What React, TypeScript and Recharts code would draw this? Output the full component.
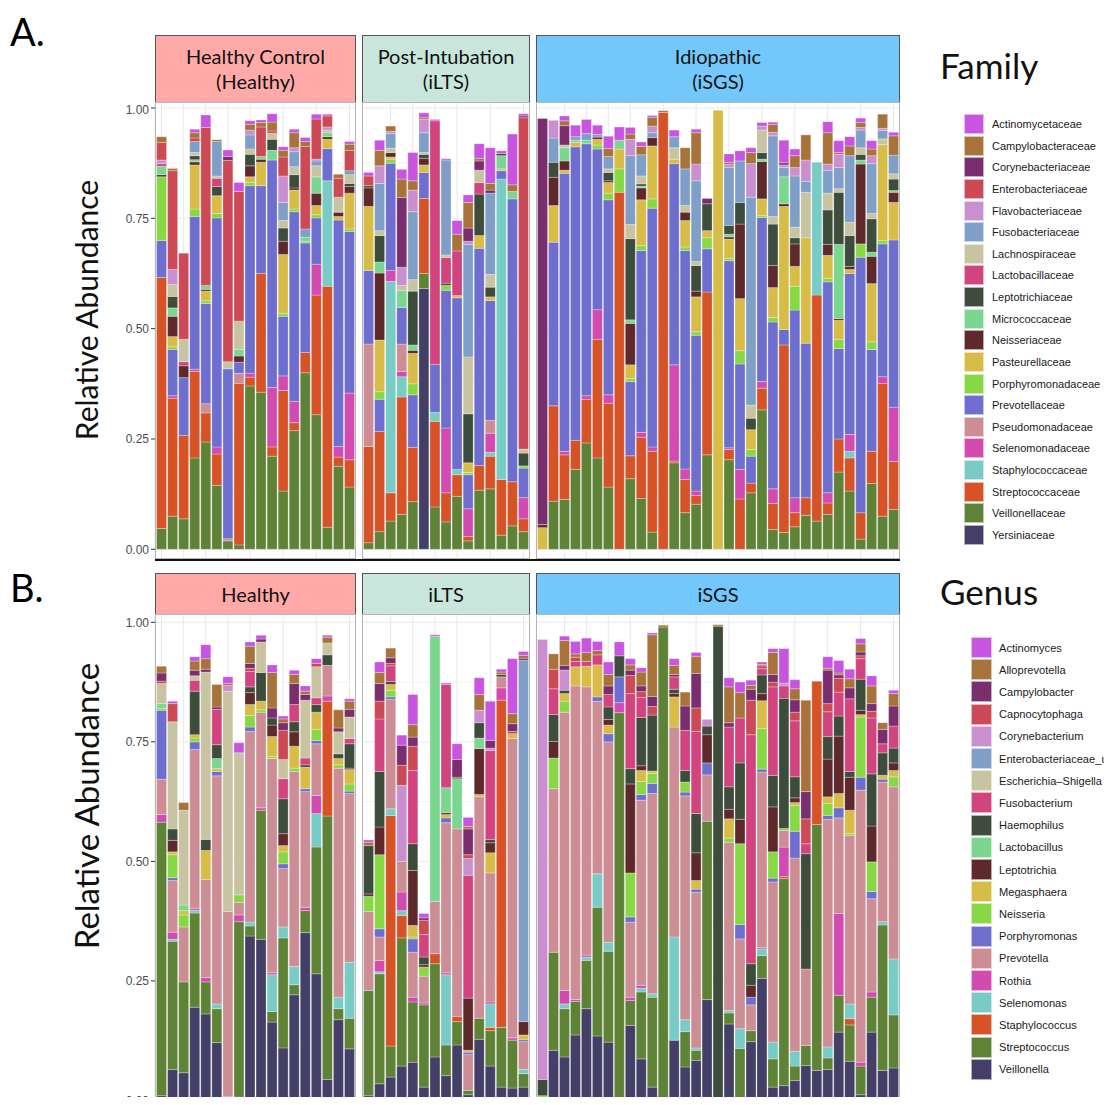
import React from 'react';
import { BarChart, Bar, XAxis, YAxis, CartesianGrid } from 'recharts';

// legend order (top of stack first)
const FAMILIES = ['Actinomycetaceae', 'Campylobacteraceae', 'Corynebacteriaceae', 'Enterobacteriaceae', 'Flavobacteriaceae', 'Fusobacteriaceae', 'Lachnospiraceae', 'Lactobacillaceae', 'Leptotrichiaceae', 'Micrococcaceae', 'Neisseriaceae', 'Pasteurellaceae', 'Porphyromonadaceae', 'Prevotellaceae', 'Pseudomonadaceae', 'Selenomonadaceae', 'Staphylococcaceae', 'Streptococcaceae', 'Veillonellaceae', 'Yersiniaceae'];
const FAM_KEYS = ['Ac', 'Ca', 'Co', 'En', 'Fl', 'Fu', 'La', 'Lb', 'Le', 'Mi', 'Ne', 'Pa', 'Po', 'Pv', 'Ps', 'Se', 'St', 'Sr', 'Ve', 'Ye'];

const GENERA = ['Actinomyces', 'Alloprevotella', 'Campylobacter', 'Capnocytophaga', 'Corynebacterium', 'Enterobacteriaceae_unclassified', 'Escherichia–Shigella', 'Fusobacterium', 'Haemophilus', 'Lactobacillus', 'Leptotrichia', 'Megasphaera', 'Neisseria', 'Porphyromonas', 'Prevotella', 'Rothia', 'Selenomonas', 'Staphylococcus', 'Streptococcus', 'Veillonella'];
const GEN_KEYS = ['Ac', 'Al', 'Cb', 'Cn', 'Cy', 'Eu', 'Es', 'Fu', 'Ha', 'Lc', 'Lp', 'Me', 'Ne', 'Po', 'Pr', 'Ro', 'Se', 'Sp', 'St', 'Vn'];

const PALETTE = ['#c855e0', '#a8733a', '#7a2e6e', '#cc4a55', '#c98fcf', '#7f9fc8', '#c8c3a1', '#d2447e', '#3d4c3b', '#7bd690', '#5e292b', '#d7bc48', '#87d844', '#6e6ecf', '#cc8d95', '#d14bb1', '#79cbc6', '#d55327', '#5e8236', '#433f66'];

type Sample = Record<string, number>;

// ---- Family level ----
const famHealthy: Sample[] = [
  { Ve: .047, Sr: .569, Pv: .084, Po: .144, Ne: .005, Mi: .019, Lb: .006, Fl: .008, En: .04, Ca: .013 },
  { Ve: .075, Sr: .267, Se: .006, Pv: .105, Po: .006, Pa: .023, Ne: .046, Mi: .019, Le: .026, La: .027, Fl: .034, En: .224, Ca: .005 },
  { Ve: .069, Sr: .189, Pv: .131, Ne: .027, Lb: .009, La: .051, En: .195 },
  { Ve: .207, Sr: .196, Se: .005, Pv: .346, Po: .017, Pa: .1, Ne: .007, Mi: .005, Le: .009, La: .007, Fu: .025, En: .008, Ca: .012, Ac: .008 },
  { Ve: .243, Sr: .066, Ps: .021, Pv: .227, Pa: .022, Po: .006, Mi: .009, Ne: .004, En: .358, Ac: .028 },
  { Ve: .145, Sr: .071, Se: .016, Pv: .519, Po: .01, Pa: .04, Le: .021, Lb: .019, La: .005, Fu: .078, Ca: .004 },
  { Ve: .019, Ps: .005, Pv: .385, La: .016, En: .456, Co: .009, Ac: .015 },
  { Ve: .01, Sr: .366, Ps: .023, Pv: .025, Ne: .014, Mi: .015, La: .064, En: .294, Ac: .02 },
  { Ve: .37, Sr: .02, Se: .009, Pv: .425, Po: .007, Pa: .013, Ne: .025, Le: .026, La: .012, Fu: .032, Fl: .011, Ca: .013, Ac: .008 },
  { Ve: .356, Sr: .269, Pv: .199, Pa: .053, Ne: .007, Mi: .006, En: .067, Ca: .01, Ac: .006 },
  { Ve: .211, Sr: .021, Se: .135, Pv: .515, Mi: .022, Le: .025, La: .014, En: .005, Ca: .02, Ac: .019 },
  { Ve: .132, Sr: .228, Se: .033, Pv: .135, Po: .006, Pa: .134, Ne: .03, Le: .03, La: .017, Fu: .041, Fl: .06, En: .043, Ca: .015, Ac: .008 },
  { Ve: .269, Sr: .018, Se: .048, Pv: .43, Po: .006, Pa: .043, Ne: .005, Le: .03, La: .018, Fu: .034, Fl: .009, Ca: .034, Ac: .008 },
  { Ve: .4, Sr: .046, Pv: .248, Po: .004, Mi: .009, Fu: .019, En: .187, Ca: .011, Ac: .009 },
  { Ve: .305, Sr: .271, Se: .07, Pv: .105, Po: .007, Pa: .021, Ne: .028, Mi: .037, La: .025, Fu: .011, Fl: .004, En: .091, Ac: .011 },
  { Ve: .05, Sr: .546, St: .239, Pv: .073, Pa: .021, Ne: .006, Mi: .009, La: .006, Fl: .007, En: .025, Ac: .004 },
  { Ve: .188, Sr: .021, Se: .024, Pv: .513, Pa: .008, Ne: .01, La: .034, En: .043, Ca: .009 },
  { Ve: .141, Sr: .062, Se: .151, Pv: .366, Po: .006, Pa: .081, Ne: .015, Le: .007, La: .02, Fu: .009, En: .046, Ca: .014, Ac: .006 },
];

const famILTS: Sample[] = [
  { Ve: .015, Sr: .218, Ps: .232, Pv: .167, Pa: .145, Ne: .042, Le: .005, En: .022, Ac: .008 },
  { Ve: .04, Sr: .227, Pv: .073, Po: .017, Pa: .117, Ne: .152, Mi: .025, Le: .06, La: .011, Fu: .107, Fl: .04, Ca: .035, Ac: .023 },
  { Ve: .064, Sr: .064, St: .479, Se: .025, Pv: .243, Po: .009, Pa: .005, Ne: .01, La: .01, Fu: .033, Fl: .005, Ca: .012 },
  { Ve: .079, Sr: .266, St: .046, Se: .012, Ps: .062, Pv: .083, Mi: .038, La: .012, Fl: .041, Co: .158, Ca: .042, Ac: .022 },
  { Ve: .108, Sr: .123, Pv: .119, Po: .025, Pa: .069, Ne: .007, Mi: .012, Le: .122, La: .026, Fu: .154, Fl: .049, Ca: .021, Ac: .064 },
  { Ye: .591, Ve: .034, Sr: .17, Pv: .059, Pa: .017, Ne: .015, Le: .009, La: .004, Fu: .045, Fl: .03, Ca: .004, Ac: .011 },
  { Ve: .096, Sr: .194, St: .02, Pv: .109, Lb: .552, Ac: .003 },
  { Ve: .062, Sr: .066, Se: .147, Pv: .312, Po: .011, Le: .005, Lb: .058, La: .006, Fu: .215, Ac: .003 },
  { Ve: .12, Sr: .049, St: .012, Pv: .389, Pa: .005, Lb: .101, Ca: .038, Ac: .031 },
  { Ve: .019, Sr: .01, Se: .063, Pv: .077, Po: .005, Pa: .022, Le: .111, La: .129, Fu: .255, Fl: .007, Co: .03, Ca: .058, Ac: .017 },
  { Ve: .134, Sr: .056, Pv: .492, Pa: .029, Le: .094, Lb: .026, La: .028, Co: .021, Ca: .006, Ac: .033 },
  { Ve: .137, Sr: .074, St: .009, Se: .043, Ps: .029, Pv: .272, Pa: .008, Le: .022, La: .029, Fu: .184, Co: .007, Ca: .015, Ac: .081 },
  { Ve: .032, Sr: .126, St: .681, Pv: .019, Pa: .004, Mi: .03, Le: .005, Ac: .006 },
  { Ve: .053, Sr: .1, Pv: .641, Mi: .017, Ca: .015, Ac: .115 },
  { Ve: .04, Sr: .029, Se: .048, Pv: .067, Po: .005, Le: .029, La: .009, En: .751, Co: .004, Ac: .005 },
];

const famISGS: Sample[] = [
  { Pa: .049, Ne: .007, Co: .92 },
  { Ve: .109, Sr: .216, Pv: .371, Pa: .083, Ne: .064, Le: .034, Fu: .055, Fl: .04 },
  { Ve: .113, Sr: .101, Se: .008, Pv: .63, Pa: .007, Ne: .021, Mi: .03, La: .006, Co: .044, Ca: .011, Ac: .011 },
  { Ve: .181, Sr: .066, Pv: .665, Pa: .01, Mi: .005, Fu: .008, Ac: .026 },
  { Ve: .241, Sr: .099, Se: .008, Pv: .571, Mi: .008, Fu: .015, Ac: .032 },
  { Ve: .207, Sr: .269, Se: .067, Pv: .364, Po: .009, Pa: .013, Ne: .005, Fu: .006, Ac: .021 },
  { Ve: .141, Sr: .19, Se: .019, Pv: .442, Po: .015, Pa: .024, Ne: .004, Le: .019, La: .008, Fu: .028, Ca: .018, Ac: .028 },
  { Sr: .809, Po: .053, Pa: .045, Mi: .02, Ac: .03 },
  { Ve: .16, Sr: .052, Pv: .168, Po: .007, Pa: .031, Ne: .094, Mi: .008, Le: .184, La: .032, Fu: .156, Fl: .037, Ca: .012, Ac: .015 },
  { Ve: .115, Sr: .139, Se: .011, Pv: .412, Po: .011, Pa: .104, Ne: .027, Mi: .004, Le: .005, La: .018, Fu: .048, Ca: .019, Ac: .01 },
  { Ve: .039, Sr: .183, Se: .01, Pv: .541, Po: .021, Pa: .12, Ne: .019, Fu: .011, Fl: .015, Ca: .02, Ac: .004 },
  { Sr: .99, Ca: .004 },
  { Ve: .196, Sr: .004, Se: .218, Pv: .456, Pa: .01, La: .026, Fu: .025, Ac: .015 },
  { Ve: .083, Sr: .075, Se: .024, Pv: .495, Po: .008, Pa: .06, Ne: .019, La: .015, Fu: .083, Ca: .048 },
  { Ve: .102, Sr: .02, Se: .01, Pv: .353, Po: .008, Pa: .079, Ne: .013, Le: .058, La: .009, Fu: .183, Fl: .038, Ca: .071, Ac: .008 },
  { Ve: .214, Sr: .369, Pv: .098, Po: .025, Pa: .016, Le: .061, Co: .012 },
  { Pa: .995 },
  { Ve: .203, Sr: .023, Se: .004, Pv: .424, Po: .005, Pa: .044, Ne: .005, Mi: .006, Le: .02, Fu: .131, Fl: .008, Ca: .004, Ac: .019 },
  { Sr: .114, Se: .067, Pv: .239, Po: .03, Pa: .118, Ne: .169, Le: .049, Fu: .094, Ac: .023 },
  { Ve: .128, Sr: .022, Pv: .061, Po: .015, Pa: .045, Le: .026, La: .03, Fu: .471, Fl: .076, Ca: .025, Ac: .011 },
  { Ve: .316, Sr: .049, Se: .015, Pv: .372, Po: .004, Pa: .038, Ne: .085, Mi: .005, Le: .015, La: .051, Fl: .009, Ac: .008 },
  { Ve: .045, Sr: .059, Se: .033, Pv: .378, Po: .01, Pa: .068, Ne: .05, Le: .094, La: .017, Fu: .183, Fl: .008, Ca: .018, Ac: .005 },
  { Ve: .038, Sr: .425, Pv: .035, Pa: .279, Ne: .006, Mi: .061, Fu: .021, Fl: .006, Co: .005, Ac: .051 },
  { Ve: .051, Sr: .032, Se: .034, Pv: .425, Po: .054, Pa: .045, Ne: .051, Le: .014, La: .024, Fu: .116, Fl: .019, Ca: .027, Ac: .015 },
  { Ve: .077, Sr: .04, Pv: .35, Pa: .239, La: .103, Fu: .025, Fl: .048, Ca: .057 },
  { Ve: .064, Sr: .512, St: .301 },
  { Ve: .079, Sr: .026, Se: .023, Pv: .478, Po: .008, Pa: .052, Ne: .025, Le: .078, La: .038, Fu: .052, Fl: .014, Ca: .071, Ac: .025 },
  { Ve: .175, Sr: .075, Pv: .205, Po: .021, Pa: .043, Ne: .004, Mi: .168, Le: .118, La: .008, Fu: .048, Fl: .03, Ca: .004, Ac: .027 },
  { Ve: .132, Sr: .075, St: .015, Se: .038, Pv: .365, Pa: .009, Ne: .007, Le: .07, La: .03, Fu: .151, Ca: .022, Ac: .021 },
  { Ve: .023, Sr: .06, Pv: .579, Po: .03, Ne: .181, Mi: .009, Le: .013, La: .015, Fu: .04, Fl: .006, Ca: .011, Ac: .01 },
  { Ve: .149, Sr: .073, Pv: .231, Po: .017, Pa: .132, Ne: .062, Mi: .009, Le: .076, La: .012, Fu: .113, Fl: .018, Ca: .015, Ac: .019 },
  { Ve: .075, Sr: .301, Se: .015, Pv: .301, Po: .008, Pa: .217, La: .013, Fu: .019, Fl: .005, Ca: .032 },
  { Ve: .09, Sr: .109, Se: .123, Pv: .379, Pa: .085, Ne: .023, Mi: .004, Le: .026, La: .012, Fu: .042, Ca: .044, Ac: .008 },
];

// ---- Genus level ----
const genHealthy: Sample[] = [
  { Vn: .01, St: .572, Ro: .016, Pr: .074, Po: .144, Ne: .004, Lc: .01, Es: .042, Cn: .005, Cb: .017, Al: .014 },
  { Vn: .065, St: .268, Se: .004, Ro: .015, Pr: .108, Po: .006, Ne: .048, Me: .006, Lp: .024, Ha: .024, Es: .224, Cn: .038, Ac: .005 },
  { Vn: .058, St: .19, Pr: .115, Ne: .025, Me: .009, Lc: .012, Es: .198, Al: .016 },
  { Vn: .195, St: .197, Se: .006, Ro: .004, Pr: .332, Po: .016, Ne: .008, Me: .007, Ha: .091, Fu: .023, Es: .009, Cb: .012, Al: .019, Ac: .009 },
  { Vn: .181, St: .067, Ro: .009, Pr: .205, Me: .061, Ha: .023, Es: .35, Cb: .006, Al: .022, Ac: .029 },
  { Vn: .121, St: .071, Se: .01, Pr: .477, Po: .009, Me: .006, Lc: .021, Ha: .029, Fu: .074, Cb: .005, Al: .047 },
  { Vn: .004, Sp: .004, Pr: .387, Es: .461, Cy: .012, Al: .004, Ac: .014 },
  { Vn: .007, St: .367, Ro: .014, Pr: .026, Ne: .016, Es: .297, Ac: .021 },
  { Vn: .344, St: .021, Se: .008, Pr: .399, Po: .009, Ne: .024, Me: .023, Lp: .025, Ha: .012, Fu: .032, Cn: .007, Cb: .01, Al: .036, Ac: .009 },
  { Vn: .337, St: .27, Ro: .005, Pr: .2, Ne: .005, Me: .018, Ha: .06, Es: .064, Cb: .006, Ac: .008 },
  { Vn: .164, St: .022, Se: .077, Ro: .004, Pr: .448, Ne: .004, Me: .042, Lp: .024, Ha: .015, Cb: .021, Al: .074, Ac: .016 },
  { Vn: .11, St: .23, Se: .023, Pr: .122, Po: .01, Ne: .025, Me: .013, Lp: .025, Ha: .073, Fu: .042, Es: .04, Cn: .061, Cb: .016, Al: .008, Ac: .006 },
  { Vn: .221, St: .021, Se: .038, Pr: .408, Ne: .007, Me: .046, Lp: .03, Ha: .021, Fu: .036, Cb: .044, Al: .019, Ac: .009 },
  { Vn: .351, St: .046, Ro: .007, Pr: .242, Po: .006, Me: .045, Ha: .005, Fu: .014, Es: .121, Cb: .012, Al: .007, Ac: .011 },
  { Vn: .265, St: .265, Se: .07, Ro: .038, Pr: .108, Po: .007, Ne: .023, Me: .036, Ha: .016, Fu: .014, Es: .065, Cn: .007, Ac: .01 },
  { Vn: .044, St: .551, Sp: .24, Ro: .011, Pr: .064, Ha: .022, Es: .025, Al: .012, Ac: .004 },
  { Vn: .169, St: .023, Se: .024, Pr: .479, Ne: .007, Me: .013, Ha: .01, Es: .046, Cb: .008, Al: .038 },
  { Vn: .108, St: .064, Se: .117, Pr: .353, Po: .005, Ne: .015, Me: .03, Lp: .003, Ha: .051, Fu: .011, Es: .045, Cb: .016, Al: .017, Ac: .005 },
];

const genILTS: Sample[] = [
  { Vn: .01, St: .22, Pr: .165, Ne: .032, Lp: .005, Ha: .101, Al: .007, Ac: .005 },
  { Vn: .035, St: .23, Se: .004, Ro: .024, Pr: .049, Po: .017, Ne: .155, Lp: .058, Ha: .116, Fu: .11, Cn: .037, Cb: .037, Al: .023, Ac: .022 },
  { Vn: .049, St: .065, Sp: .482, Se: .014, Pr: .229, Po: .005, Ne: .014, Me: .012, Ha: .006, Fu: .033, Cn: .005, Cb: .012, Al: .02 },
  { Vn: .072, St: .268, Sp: .047, Se: .01, Ro: .039, Pr: .064, Cy: .159, Cn: .042, Cb: .042, Ac: .021 },
  { Vn: .08, St: .126, Ro: .01, Pr: .094, Po: .028, Ne: .004, Me: .024, Lp: .115, Ha: .056, Fu: .153, Cn: .051, Cb: .019, Al: .026, Ac: .063 },
  { Vn: .028, St: .172, Ro: .004, Pr: .056, Ne: .019, Lp: .005, Ha: .016, Fu: .047, Cn: .03, Cb: .005, Ac: .009 },
  { Vn: .091, St: .195, Sp: .021, Pr: .109, Lc: .555, Ac: .003 },
  { Vn: .052, St: .064, Se: .147, Ro: .004, Pr: .314, Po: .01, Me: .007, Lp: .004, Lc: .052, Fu: .216, Ac: .003 },
  { Vn: .116, St: .049, Sp: .011, Pr: .392, Lc: .105, Ha: .003, Cb: .037, Ac: .033 },
  { Vn: .012, St: .009, Pr: .075, Po: .005, Me: .004, Lp: .109, Fu: .257, Cy: .035, Cn: .008, Cb: .054, Al: .005, Ac: .019 },
  { Vn: .128, St: .044, Pr: .463, Me: .005, Lp: .096, Lc: .022, Ha: .032, Cy: .026, Al: .033, Ac: .035 },
  { Vn: .072, St: .074, Sp: .007, Se: .049, Ro: .004, Pr: .27, Me: .042, Lp: .021, Ha: .007, Fu: .186, Cy: .005, Cb: .016, Ac: .082 },
  { Vn: .028, St: .125, Sp: .684, Ro: .026, Pr: .023, Ha: .005, Al: .005, Ac: .006 },
  { Vn: .026, St: .1, Ro: .005, Pr: .626, Me: .01, Cn: .005, Cb: .016, Al: .021, Ac: .115 },
  { Vn: .028, St: .028, Se: .009, Pr: .058, Po: .004, Me: .01, Lp: .028, Eu: .756, Cb: .004, Al: .006, Ac: .008 },
];

const genISGS: Sample[] = [
  { Ro: .002, Ne: .008, Ha: .034, Cy: .92 },
  { Vn: .105, St: .205, Pr: .342, Ne: .064, Lp: .035, Ha: .056, Fu: .054, Cn: .041, Al: .032 },
  { Vn: .091, St: .101, Se: .01, Ro: .028, Pr: .582, Ne: .023, Me: .016, Ha: .007, Cy: .042, Cb: .01, Al: .052, Ac: .009 },
  { Vn: .137, St: .07, Ro: .004, Pr: .656, Me: .04, Fu: .011, Cn: .009, Al: .007, Ac: .026 },
  { Vn: .192, St: .101, Se: .007, Ro: .004, Pr: .561, Me: .043, Fu: .01, Al: .019, Ac: .03 },
  { Vn: .135, St: .269, Se: .07, Pr: .361, Po: .009, Me: .067, Fu: .021, Al: .009, Ac: .019 },
  { Vn: .122, St: .19, Se: .019, Pr: .419, Po: .017, Me: .018, Lp: .012, Ha: .026, Fu: .026, Cb: .018, Al: .024, Ac: .026 },
  { St: .811, Ro: .021, Po: .054, Ha: .044, Ac: .029 },
  { Vn: .157, St: .052, Ro: .007, Pr: .157, Po: .011, Ne: .092, Lp: .186, Ha: .032, Fu: .157, Cn: .038, Cb: .011, Al: .011, Ac: .013 },
  { Vn: .087, St: .14, Se: .008, Ro: .006, Pr: .387, Po: .012, Ne: .027, Me: .023, Lp: .01, Ha: .101, Fu: .042, Cn: .012, Cb: .012, Al: .029, Ac: .009 },
  { Vn: .028, St: .188, Se: .007, Pr: .419, Po: .021, Ne: .021, Me: .005, Ha: .117, Cn: .018, Cb: .021, Al: .129, Ac: .004 },
  { St: .99, Al: .004 },
  { Vn: .126, Se: .216, Pr: .439, Me: .063, Lp: .007, Ha: .009, Fu: .026, Cb: .005, Al: .019, Ac: .014 },
  { Vn: .07, St: .074, Se: .025, Pr: .468, Po: .008, Ne: .021, Ha: .024, Fu: .084, Cb: .051, Al: .029 },
  { Vn: .084, St: .021, Se: .005, Pr: .325, Po: .007, Me: .018, Lp: .058, Ha: .082, Fu: .172, Cn: .049, Cb: .072, Al: .036, Ac: .008 },
  { Vn: .211, St: .373, Pr: .097, Po: .025, Lp: .059, Ha: .018, Cy: .014 },
  { Ha: .992, Al: .003 },
  { Vn: .16, St: .023, Se: .005, Pr: .352, Ne: .009, Me: .04, Lp: .02, Ha: .047, Fu: .125, Cb: .009, Al: .075, Ac: .019 },
  { St: .109, Se: .041, Pr: .188, Po: .03, Ne: .169, Lp: .051, Ha: .118, Fu: .094, Al: .053, Ac: .022 },
  { Vn: .123, St: .023, Pr: .054, Po: .016, Lp: .025, Ha: .045, Fu: .479, Cn: .072, Cb: .023, Al: .008, Ac: .011 },
  { Vn: .255, St: .048, Se: .014, Ro: .003, Pr: .367, Po: .006, Ne: .085, Me: .058, Lp: .015, Ha: .039, Fu: .013, Cn: .006, Al: .003, Ac: .005 },
  { Vn: .028, St: .059, Se: .035, Pr: .335, Po: .008, Ne: .055, Lp: .094, Ha: .066, Fu: .185, Cn: .01, Cb: .016, Al: .046, Ac: .008 },
  { Vn: .031, St: .433, Sp: .004, Ro: .062, Pr: .035, Ne: .004, Ha: .272, Fu: .026, Cy: .006, Ac: .072 },
  { Vn: .042, St: .03, Se: .031, Pr: .404, Po: .056, Ne: .054, Me: .006, Lp: .01, Ha: .044, Fu: .117, Cn: .018, Cb: .026, Al: .023, Ac: .019 },
  { Vn: .073, St: .042, Pr: .16, Ha: .241, Fu: .021, Cn: .052, Cb: .057, Al: .191 },
  { Vn: .063, St: .514, Sp: .3 },
  { Vn: .065, St: .024, Se: .023, Pr: .476, Po: .008, Ne: .025, Me: .014, Lp: .079, Ha: .047, Fu: .052, Cn: .017, Cb: .07, Al: .004, Ac: .024 },
  { Vn: .143, St: .077, Ro: .171, Pr: .2, Po: .021, Me: .03, Lp: .12, Ha: .042, Fu: .05, Cn: .029, Cb: .007, Al: .004, Ac: .026 },
  { Vn: .082, St: .076, Sp: .013, Se: .031, Pr: .352, Ne: .004, Me: .049, Lp: .069, Ha: .012, Fu: .152, Cb: .023, Al: .019, Ac: .02 },
  { Vn: .012, St: .06, Ro: .008, Pr: .569, Po: .027, Ne: .126, Me: .005, Lp: .009, Ha: .065, Fu: .043, Cn: .006, Cb: .008, Al: .017, Ac: .011 },
  { Vn: .143, St: .073, Ro: .011, Pr: .195, Po: .015, Ne: .062, Lp: .075, Ha: .109, Fu: .117, Cn: .014, Cb: .016, Al: .037, Ac: .021 },
  { Vn: .063, St: .304, Se: .007, Pr: .292, Po: .006, Me: .008, Ha: .047, Fu: .019, Cb: .03, Al: .014 },
  { Vn: .068, St: .111, Se: .117, Pr: .36, Ne: .021, Me: .013, Lp: .016, Ha: .031, Fu: .046, Cb: .042, Al: .026, Ac: .007 },
];

const Y_TICKS = [0, 0.25, 0.5, 0.75, 1];
const MINOR = [0.125, 0.375, 0.625, 0.875];
const GILL = 'Lato, "Open Sans", sans-serif';
const HELV = '"Liberation Sans", Arial, sans-serif';
const Y_AXIS_W = 44;

function Facet({ data, keys, plotW, height, domain, showY }: {
  data: Sample[]; keys: string[]; plotW: number; height: number; domain: [number, number]; showY: boolean;
}) {
  const rows = data.map((d, i) => {
    const r: Record<string, number | string> = { id: 's' + i };
    keys.forEach(k => { r[k] = d[k] ?? 0; });
    return r;
  });
  const stackOrder = [...keys].reverse(); // bottom of stack = last legend entry
  return (
    <BarChart width={plotW + (showY ? Y_AXIS_W : 0)} height={height} data={rows}
      margin={{ top: 0, right: 0, bottom: 0, left: 0 }} barCategoryGap="5%">
      <CartesianGrid horizontalValues={MINOR} vertical={false} stroke="#f3f3f3" />
      <CartesianGrid horizontalValues={Y_TICKS} stroke="#e9e9e9" />
      <XAxis dataKey="id" hide padding={{ left: 1, right: 1 }} />
      <YAxis hide={!showY} width={Y_AXIS_W} type="number" domain={domain} allowDataOverflow ticks={Y_TICKS}
        tickFormatter={(v: number) => v.toFixed(2)} axisLine={false}
        tickLine={{ stroke: '#333' }} tickSize={4} tickMargin={2}
        tick={{ fill: '#4d4d4d', fontSize: 12, fontFamily: HELV }} />
      {stackOrder.map(k => (
        <Bar key={k} dataKey={k} stackId="a" fill={PALETTE[keys.indexOf(k)]}
          stroke="#ffffff" strokeOpacity={0.55} strokeWidth={0.5} isAnimationActive={false} />
      ))}
    </BarChart>
  );
}

type FacetDef = { x: number; w: number; data: Sample[]; label: string[]; color: string };

function Row({ facets, keys, stripTop, stripH, plotTop, plotH, domain }: {
  facets: FacetDef[]; keys: string[]; stripTop: number; stripH: number; plotTop: number; plotH: number; domain: [number, number];
}) {
  return (
    <>
      {facets.map((f, i) => (
        <React.Fragment key={i}>
          <div style={{
            position: 'absolute', left: f.x, top: stripTop, width: f.w, height: stripH, boxSizing: 'border-box',
            background: f.color, border: '1px solid #555', display: 'flex', flexDirection: 'column',
            alignItems: 'center', justifyContent: 'center', fontFamily: GILL, fontSize: 20, lineHeight: '25px', color: '#111'
          }}>
            {f.label.map(t => <div key={t}>{t}</div>)}
          </div>
          <div style={{ position: 'absolute', left: i === 0 ? f.x - Y_AXIS_W : f.x, top: plotTop }}>
            <Facet data={f.data} keys={keys} plotW={f.w} height={plotH} domain={domain} showY={i === 0} />
          </div>
          <div style={{
            position: 'absolute', left: f.x, top: plotTop, width: f.w, height: plotH, boxSizing: 'border-box',
            border: '1px solid #b5b5b5', pointerEvents: 'none'
          }} />
        </React.Fragment>
      ))}
    </>
  );
}

function Legend({ title, names, top, titleTop, keyX, step, size, fontSize, gap }: {
  title: string; names: string[]; top: number; titleTop: number; keyX: number; step: number; size: number; fontSize: number; gap: number;
}) {
  return (
    <>
      <div style={{ position: 'absolute', left: 940, top: titleTop, fontFamily: GILL, fontSize: 35, color: '#111', whiteSpace: 'nowrap' }}>{title}</div>
      {names.map((n, i) => (
        <div key={n} style={{ position: 'absolute', left: keyX, top: top + i * step, height: size, display: 'flex', alignItems: 'center', whiteSpace: 'nowrap' }}>
          <div style={{ width: size, height: size, background: PALETTE[i], boxSizing: 'border-box', border: '1px solid rgba(255,255,255,0.6)' }} />
          <span style={{ marginLeft: gap, fontFamily: HELV, fontSize, color: '#1a1a1a' }}>{n}</span>
        </div>
      ))}
    </>
  );
}

export default function App() {
  const yLabel = (cy: number, size: number) => (
    <div style={{
      position: 'absolute', left: 86, top: cy, transform: 'translate(-50%, -50%) rotate(-90deg)',
      fontFamily: GILL, fontSize: size, color: '#111', whiteSpace: 'nowrap'
    }}>Relative Abundance</div>
  );
  return (
    <div style={{ position: 'relative', width: 1112, height: 1105, margin: -8, overflow: 'hidden', background: '#fff' }}>
      <div style={{ position: 'absolute', left: 10, top: 8, fontFamily: GILL, fontSize: 38, color: '#000' }}>A.</div>
      <div style={{ position: 'absolute', left: 10, top: 564, fontFamily: GILL, fontSize: 38, color: '#000' }}>B.</div>
      {yLabel(310, 30)}
      {yLabel(806, 33)}

      <Row keys={FAM_KEYS} stripTop={35} stripH={68} plotTop={102} plotH={457} domain={[-0.022, 1.0136]}
        facets={[
          { x: 155, w: 201, data: famHealthy, label: ['Healthy Control', '(Healthy)'], color: '#ffaaa9' },
          { x: 362, w: 168, data: famILTS, label: ['Post-Intubation', '(iLTS)'], color: '#c9e6dc' },
          { x: 536, w: 364, data: famISGS, label: ['Idiopathic', '(iSGS)'], color: '#73c8fb' },
        ]} />
      <div style={{ position: 'absolute', left: 155, top: 559, width: 745, height: 2, background: '#111' }} />

      <Row keys={GEN_KEYS} stripTop={573} stripH={42} plotTop={614} plotH={497} domain={[-0.022, 1.0174]}
        facets={[
          { x: 155, w: 201, data: genHealthy, label: ['Healthy'], color: '#ffaaa9' },
          { x: 362, w: 168, data: genILTS, label: ['iLTS'], color: '#c9e6dc' },
          { x: 536, w: 364, data: genISGS, label: ['iSGS'], color: '#73c8fb' },
        ]} />

      <Legend title="Family" names={FAMILIES} titleTop={44} top={114} keyX={964} step={21.63} size={20} fontSize={11} gap={8} />
      <Legend title="Genus" names={GENERA} titleTop={570} top={637} keyX={971} step={22.2} size={21} fontSize={11.1} gap={7} />
    </div>
  );
}
